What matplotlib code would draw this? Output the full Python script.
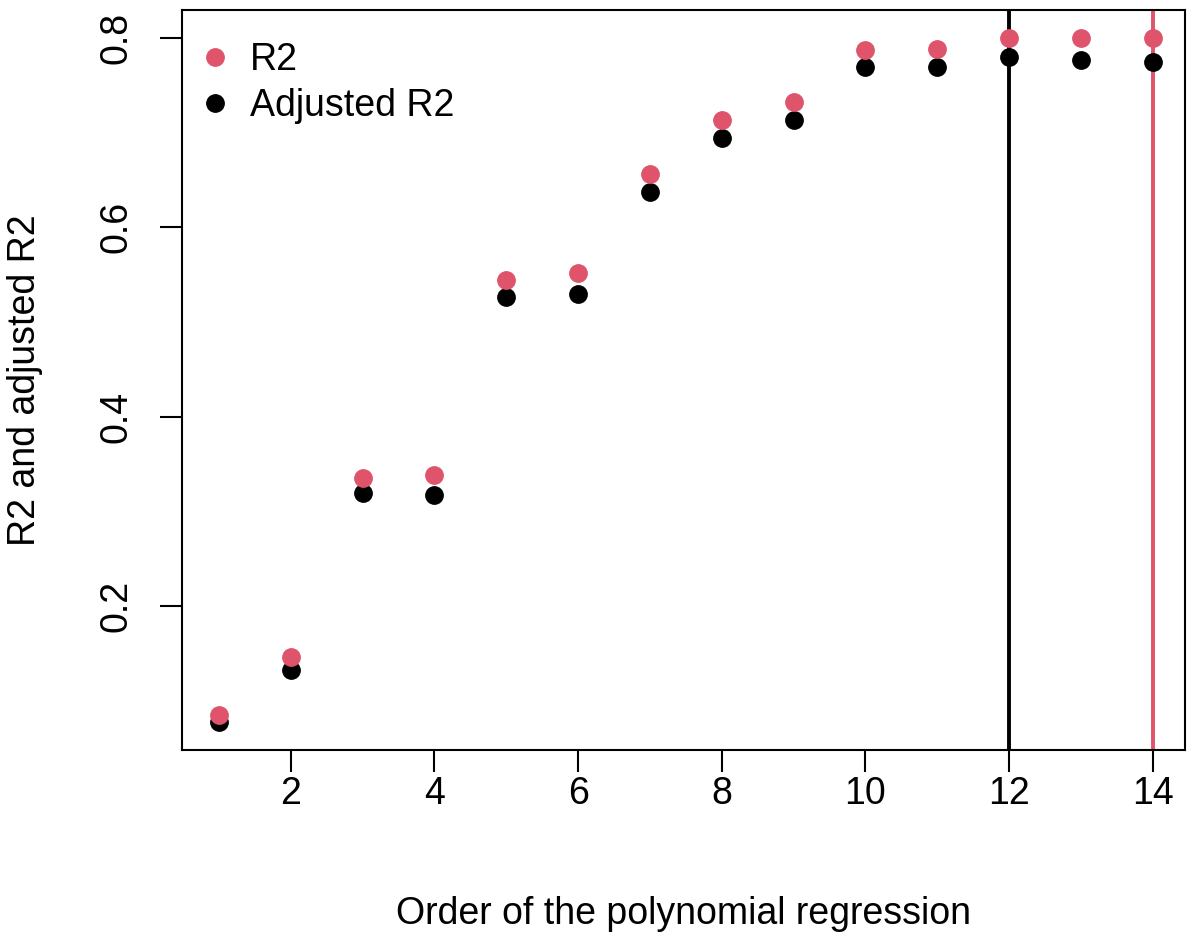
import matplotlib
matplotlib.use("Agg")
import matplotlib.pyplot as plt
import numpy as np

plt.rcParams['font.family'] = ['Liberation Sans', 'DejaVu Sans']

order = np.arange(1, 15)
r2 = [0.085, 0.146, 0.335, 0.338, 0.544, 0.552, 0.656, 0.713, 0.732,
      0.787, 0.788, 0.800, 0.800, 0.800]
adj_r2 = [0.077, 0.132, 0.319, 0.317, 0.526, 0.530, 0.637, 0.694, 0.713,
          0.769, 0.769, 0.780, 0.777, 0.775]
best_adj = 12
best_r2 = 14

red = '#DF536B'

fig = plt.figure(figsize=(11.9, 9.36), dpi=100)
ax = fig.add_axes([181.6 / 1190, 1 - 750 / 936, (1185 - 181.6) / 1190, 740 / 936])

ax.plot(order, adj_r2, 'o', color='black', markersize=12.5, zorder=3)
ax.plot(order, r2, 'o', color=red, markersize=12.5, zorder=4)
ax.axvline(best_adj, color='black', lw=2.8, zorder=2)
ax.axvline(best_r2, color=red, lw=2.8, zorder=2)

ax.set_xlim(0.48, 14.45)
ax.set_ylim(0.0478, 0.8296)
ax.set_xticks(range(2, 15, 2))
ax.set_yticks([0.2, 0.4, 0.6, 0.8])
ax.set_yticklabels(['0.2', '0.4', '0.6', '0.8'], rotation=90, va='center')
ax.tick_params(length=16, width=1.5, labelsize=27)
ax.tick_params(axis='x', pad=3)
ax.tick_params(axis='y', pad=18)
for s in ax.spines.values():
    s.set_linewidth(1.5)

ax.set_xlabel('Order of the polynomial regression', fontsize=27, labelpad=60)
ax.set_ylabel('R2 and adjusted R2', fontsize=27, labelpad=40)

ax.legend(handles=[
    plt.Line2D([], [], marker='o', ls='', color=red, markersize=12.5, label='R2'),
    plt.Line2D([], [], marker='o', ls='', color='black', markersize=12.5, label='Adjusted R2'),
], loc='upper left', bbox_to_anchor=(0.0071, 0.9723), frameon=False, fontsize=27,
    handletextpad=0.53, handlelength=0.8, borderaxespad=0, borderpad=0.3,
    labelspacing=0.27)

fig.savefig('out.png', dpi=100)
